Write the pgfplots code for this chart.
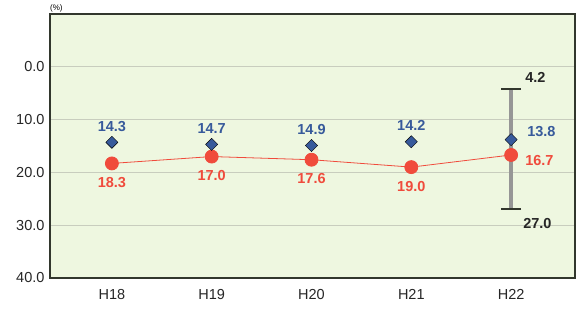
\documentclass[border=0pt]{standalone}
\usepackage{fontspec}
\setmainfont{Liberation Sans}
\usepackage{pgfplots}
\pgfplotsset{compat=1.18}
\definecolor{bg}{RGB}{238,247,224}
\definecolor{grd}{RGB}{200,205,190}
\definecolor{dblue}{RGB}{55,90,155}
\definecolor{dred}{RGB}{240,75,60}
\definecolor{frame}{RGB}{50,55,45}
\definecolor{ebar}{RGB}{150,150,150}
\begin{document}
\begin{tikzpicture}
\begin{axis}[
 scale only axis, width=525pt, height=264pt,
 xmin=-0.62, xmax=4.64, ymin=-10, ymax=40, y dir=reverse,
 xtick={0,...,4}, xticklabels={H18,H19,H20,H21,H22},
 ytick={0,10,20,30,40},
 major tick length=0pt,
 ymajorgrids, grid style={grd, line width=0.8pt},
 axis line style={frame, line width=1.8pt},
 axis background/.style={fill=bg},
 /pgf/number format/assume math mode=true,
 ticklabel style={font=\fontsize{14.5}{14.5}\selectfont, text=black!85},
 xticklabel style={yshift=-8pt},
 yticklabel style={xshift=-2pt, /pgf/number format/.cd, fixed, fixed zerofill, precision=1},
 clip=false,
]
% error range bar
\addplot[ebar, line width=4pt, mark=-, mark options={frame, line width=2pt, mark size=10pt, solid}] coordinates {(4,4.2) (4,27.0)};
% red line
\addplot[dred, line width=0.8pt, mark=*, mark size=6.5pt, mark options={fill=dred, draw=none}] coordinates {(0,18.3) (1,17.0) (2,17.6) (3,19.0) (4,16.7)};
% blue diamonds
\addplot[only marks, mark=square*, mark size=4.3pt, mark options={rotate=45, fill=dblue, draw=none}] coordinates {(0,14.3) (1,14.7) (2,14.9) (3,14.2) (4,13.8)};
% labels
\addplot[draw=none, mark=none, point meta=y, nodes near coords={\pgfmathprintnumber[fixed,fixed zerofill,precision=1]{\pgfplotspointmeta}},
 every node near coord/.append style={text=dblue, font=\bfseries\fontsize{14.5}{14.5}\selectfont, anchor=center, inner sep=0pt, yshift=16pt}]
 coordinates {(0,14.3) (1,14.7) (2,14.9) (3,14.2)};
\addplot[draw=none, mark=none, point meta=y, nodes near coords={\pgfmathprintnumber[fixed,fixed zerofill,precision=1]{\pgfplotspointmeta}},
 every node near coord/.append style={text=dblue, font=\bfseries\fontsize{14.5}{14.5}\selectfont, anchor=west, inner sep=0pt, xshift=16pt, yshift=8pt}]
 coordinates {(4,13.8)};
\addplot[draw=none, mark=none, point meta=y, nodes near coords={\pgfmathprintnumber[fixed,fixed zerofill,precision=1]{\pgfplotspointmeta}},
 every node near coord/.append style={text=dred, font=\bfseries\fontsize{14.5}{14.5}\selectfont, anchor=center, inner sep=0pt, yshift=-19pt}]
 coordinates {(0,18.3) (1,17.0) (2,17.6) (3,19.0)};
\addplot[draw=none, mark=none, point meta=y, nodes near coords={\pgfmathprintnumber[fixed,fixed zerofill,precision=1]{\pgfplotspointmeta}},
 every node near coord/.append style={text=dred, font=\bfseries\fontsize{14.5}{14.5}\selectfont, anchor=west, inner sep=0pt, xshift=14pt, yshift=-6pt}]
 coordinates {(4,16.7)};
\addplot[draw=none, mark=none, point meta=y, nodes near coords={\pgfmathprintnumber[fixed,fixed zerofill,precision=1]{\pgfplotspointmeta}},
 every node near coord/.append style={text=black!85, font=\bfseries\fontsize{14.5}{14.5}\selectfont, anchor=west, inner sep=0pt, xshift=14pt, yshift=12pt}]
 coordinates {(4,4.2)};
\addplot[draw=none, mark=none, point meta=y, nodes near coords={\pgfmathprintnumber[fixed,fixed zerofill,precision=1]{\pgfplotspointmeta}},
 every node near coord/.append style={text=black!85, font=\bfseries\fontsize{14.5}{14.5}\selectfont, anchor=west, inner sep=0pt, xshift=12pt, yshift=-14pt}]
 coordinates {(4,27.0)};
\node[anchor=south west, inner sep=0pt, font=\fontsize{8}{8}\selectfont, yshift=2pt] at (rel axis cs:0,1) {(\%)};
\end{axis}
\path ([shift={(-50pt,-34pt)}]current axis.south west) rectangle ([shift={(3pt,14pt)}]current axis.north east);
\end{tikzpicture}
\end{document}
